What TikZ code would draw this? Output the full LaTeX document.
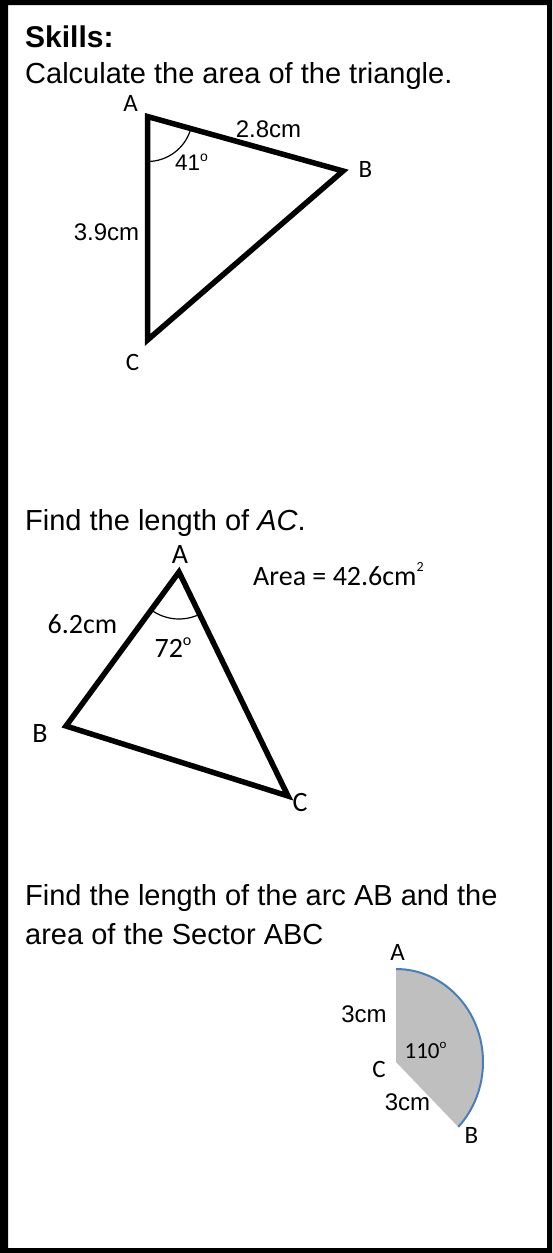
\documentclass[tikz,border=0pt]{standalone}
\usepackage{fontspec}
\setmainfont{Liberation Sans}
\newfontfamily\calibrifont{Carlito}
\usepackage{tikz}
\definecolor{sectorgray}{HTML}{BFBFBF}
\definecolor{arcblue}{HTML}{4A7EBB}
\newcommand{\upsmall}[3]{\raisebox{#1}{\fontsize{#2}{#2}\selectfont #3}}
\tikzset{
    heading/.style={anchor=base west, inner sep=0pt, font=\bfseries\fontsize{30}{36}\selectfont},
    question/.style={anchor=base west, inner sep=0pt, font=\fontsize{29}{35}\selectfont},
    vertex/.style={anchor=base, inner sep=0pt, font=\calibrifont\fontsize{25}{30}\selectfont},
    bigvertex/.style={anchor=base, inner sep=0pt, font=\calibrifont\fontsize{28}{32}\selectfont},
    measure/.style={anchor=base, inner sep=0pt, font=\fontsize{24}{28}\selectfont},
    side/.style={line width=5.5pt},
    anglearc/.style={line width=1.2pt},
    sector/.style={fill=sectorgray},
    arcline/.style={draw=arcblue, line width=2pt}
}

\begin{document}
\begin{tikzpicture}[x=1pt, y=-1pt]
    \useasboundingbox (0,0) rectangle (552,1253);
    \fill [even odd rule] (0,0) rectangle (552,1253) (8,5) rectangle (547,1248);

    \node (skills) [heading] at (25,47) {Skills:};
    \node (q1) [question] at (25,83) {Calculate the area of the triangle.};

    % triangle with two sides and the angle between
    \coordinate (A1) at (147.5,116.5);
    \coordinate (B1) at (343,171);
    \coordinate (C1) at (147.5,340);
    \draw [side] (A1) -- (B1) -- (C1) -- cycle;
    \draw [anglearc] (A1) ++(15.6:45) arc[start angle=15.6, end angle=90, radius=45];
    \node (lA1) [vertex] at (130.5,111.5) {A};
    \node (lB1) [vertex] at (365.5,177) {B};
    \node (lC1) [vertex] at (132.5,370) {C};
    \node (ab1) [measure] at (268.5,137) {2.8cm};
    \node (ac1) [measure] at (106.5,240) {3.9cm};
    \node (ang1) [measure, font=\fontsize{22.5}{27}\selectfont] at (191.5,170) {41\upsmall{0.4em}{14}{o}};

    \node (q2) [question] at (25,530) {Find the length of \textit{AC}.};

    % triangle with area given
    \coordinate (A2) at (179,572);
    \coordinate (B2) at (66,726);
    \coordinate (C2) at (288,796);
    \draw [side] (A2) -- (B2) -- (C2) -- cycle;
    \draw [anglearc] (A2) ++(63.9:47) arc[start angle=63.9, end angle=126.5, radius=47];
    \node (lA2) [bigvertex] at (180,563) {A};
    \node (lB2) [bigvertex] at (40,742) {B};
    \node (lC2) [bigvertex] at (300,811) {C};
    \node (ab2) [bigvertex] at (82.5,633) {6.2cm};
    \node (ang2) [bigvertex] at (173,657) {72\upsmall{0.4em}{16}{o}};
    \node (area) [bigvertex, anchor=base west] at (253,585) {Area = 42.6cm\upsmall{0.5em}{14}{2}};

    \node (q3) [question] at (25,905) {Find the length of the arc AB and the};
    \node (q3b) [question] at (25,944) {area of the Sector ABC};

    % sector
    \coordinate (C3) at (396,1062);
    \coordinate (A3) at (396,969);
    \coordinate (B3) at (457.7,1126.3);
    \fill [sector] (C3) -- (A3) arc[start angle=-90, end angle=44.3, x radius=87, y radius=93] -- cycle;
    \draw [arcline] (A3) arc[start angle=-90, end angle=44.3, x radius=87, y radius=93];
    \node (lA3) [vertex] at (397.5,960) {A};
    \node (lB3) [vertex] at (471.5,1143) {B};
    \node (lC3) [vertex] at (379,1077) {C};
    \node (ca3) [measure] at (364,1022) {3cm};
    \node (cb3) [measure] at (407.5,1110) {3cm};
    \node (ang3) [vertex, font=\calibrifont\fontsize{23}{28}\selectfont] at (425.5,1058) {110\upsmall{0.4em}{13}{o}};
\end{tikzpicture}
\end{document}
